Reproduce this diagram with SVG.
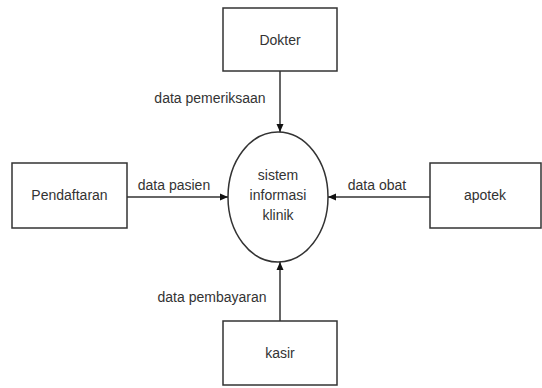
<svg xmlns="http://www.w3.org/2000/svg" width="542" height="388" viewBox="0 0 542 388">
<defs>
<marker id="arr" markerWidth="10" markerHeight="10" refX="9" refY="5" orient="auto" markerUnits="userSpaceOnUse">
<path d="M1,1.5 L9,5 L1,8.5 Z" fill="#111"/>
</marker>
<style>
.box{fill:#fff;stroke:#333;stroke-width:1.5}
.t{font-family:"Liberation Sans",Arial,sans-serif;font-size:14px;fill:#333;text-anchor:middle}
.e{fill:none;stroke:#333;stroke-width:1.5;marker-end:url(#arr)}
</style>
</defs>
<rect width="542" height="388" fill="#fff"/>
<g id="dokter"><rect class="box" x="223" y="8" width="114" height="63"/><text class="t" x="280" y="45">Dokter</text></g>
<g id="pendaftaran"><rect class="box" x="12" y="163" width="115" height="65"/><text class="t" x="69.5" y="200">Pendaftaran</text></g>
<g id="apotek"><rect class="box" x="430" y="163" width="111" height="65"/><text class="t" x="485" y="200">apotek</text></g>
<g id="kasir"><rect class="box" x="223" y="321" width="114" height="64"/><text class="t" x="280" y="358">kasir</text></g>
<g id="sistem"><ellipse cx="278" cy="197" rx="50" ry="65" fill="#fff" stroke="#333" stroke-width="1.5"/>
<text class="t" x="278" y="180">sistem</text><text class="t" x="278" y="200">informasi</text><text class="t" x="278" y="220">klinik</text></g>
<g id="connectors">
<line class="e" x1="280" y1="71" x2="280" y2="132"/>
<line class="e" x1="127" y1="197" x2="228" y2="197"/>
<line class="e" x1="430" y1="197" x2="328" y2="197"/>
<line class="e" x1="280" y1="321" x2="280" y2="262"/>
<text class="t" x="210" y="103">data pemeriksaan</text>
<text class="t" x="174" y="190">data pasien</text>
<text class="t" x="377" y="190">data obat</text>
<text class="t" x="212" y="302">data pembayaran</text>
</g>
</svg>
